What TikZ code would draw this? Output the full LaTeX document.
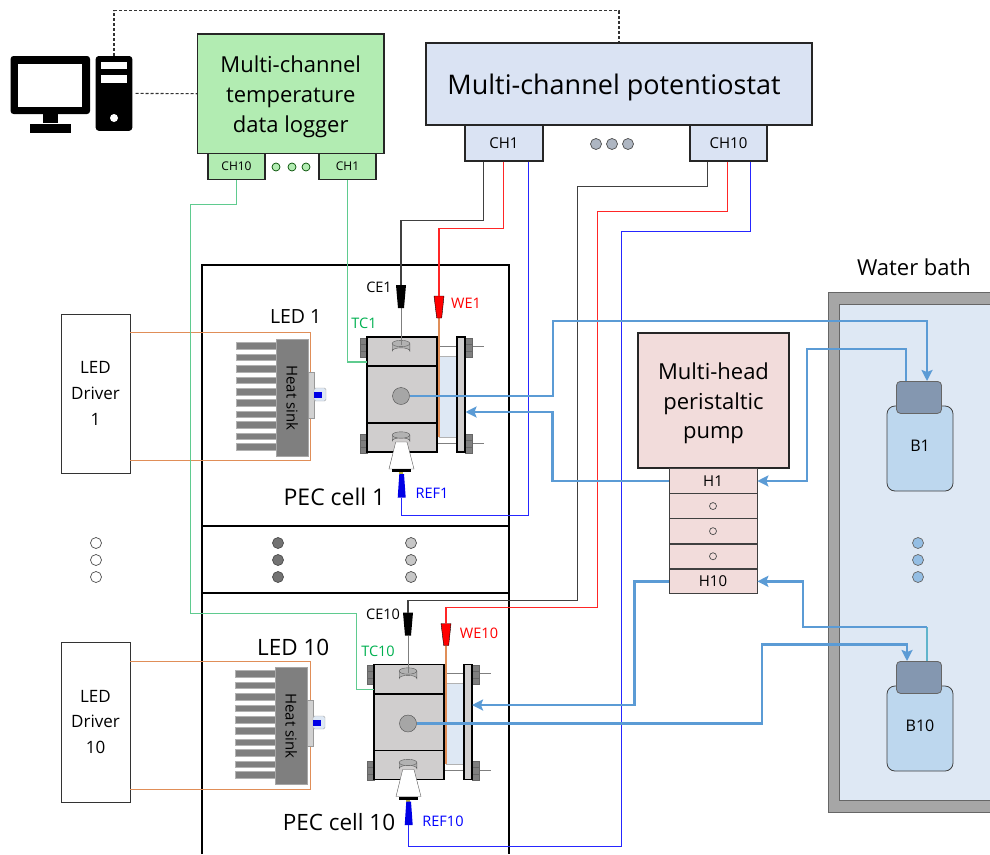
\documentclass[tikz,border=0pt]{standalone}
\usepackage{fontspec}
\setmainfont{Open Sans}
\usetikzlibrary{positioning,matrix,arrows.meta}
\definecolor{sgreen}{HTML}{B2ECB2}
\definecolor{spot}{HTML}{DAE3F3}
\definecolor{spump}{HTML}{F2DCDB}
\definecolor{swire}{HTML}{5FCB8F}
\definecolor{slabel}{HTML}{00B050}
\definecolor{stube}{HTML}{5B9BD5}
\definecolor{steal}{HTML}{5FB4CC}
\definecolor{sorange}{HTML}{E08E58}
\definecolor{sbath}{HTML}{DEE8F4}
\definecolor{sbottle}{HTML}{BDD7EE}
\definecolor{scap}{HTML}{8497B0}
\definecolor{sblock}{HTML}{D0CECE}
\definecolor{sbolt}{HTML}{7F7F7F}

\tikzset{
  px/.style={font=\linespread{1.35}\fontsize{#1}{#1}\selectfont},
  mainbox/.style={draw=black!85,line width=1.3pt,inner sep=0pt},
  boxtext/.style={align=center,inner sep=0pt,yshift=-3pt},
  dotnode/.style={circle,draw=black!70,line width=.7pt,inner sep=0pt,minimum size=#1},
  wirelabel/.style={px=14.5,inner sep=0pt},
  wire/.style={line width=1.1pt},
  dataline/.style={wire,draw=black!80,dash pattern=on 3pt off 2pt},
  tube/.style={draw=stube,line width=2.5pt},
  tubearrow/.style={tube,-{Stealth[length=11pt,width=11pt,inset=2pt]}},
  pics/ledsink/.style={code={
    \foreach \y in {7,18.2,30,41.2,52.6,64,75.2,86,97.2,107.6}
      \fill[sbolt,draw=black!30,line width=.3pt] (-40,\y-3.4) rectangle (0,\y+3.4);
    \node[draw=black!35,fill=sbolt,minimum width=32,minimum height=117,inner sep=0pt,anchor=north west] (sink) at (0,0) {};
    \node[px=15,rotate=-90] at (sink.center) {Heat sink};
    \draw[draw=black!40,fill=black!18] (32,33) rectangle (38,79);
    \draw[draw=black!35,fill=sbath,rounded corners=1.5pt] (38,49) rectangle (50,62);
    \fill[blue!90!black] (38,53) rectangle (46,59);
  }},
  pics/peccell/.style={code={
    % bolts and window behind the blocks
    \foreach \y in {9,106} \draw[sbolt,line width=.9pt] (70,\y) -- (117,\y);
    \draw[draw=black!30,fill=sbath] (72,19) rectangle (90,100);
    \foreach \y in {1,97} {
      \draw[draw=black!60,fill=sbolt] (-7,\y) rectangle (0,\y+19);
      \draw[draw=black!60,fill=sbolt] (98,\y) rectangle (105,\y+19);
      \draw[black!60] (-7,\y+6) -- (0,\y+6) (-7,\y+13) -- (0,\y+13) (98,\y+6) -- (105,\y+6) (98,\y+13) -- (105,\y+13);
    }
    \draw[black,line width=1.3pt,fill=sblock] (0,0) rectangle (70,29);
    \draw[black,line width=1.3pt,fill=sblock] (0,29.5) rectangle (70,86);
    \draw[black,line width=1.3pt,fill=sblock] (0,86) rectangle (70,115);
    \draw[black,line width=1.3pt,fill=sblock] (90,0) rectangle (98,115);
    % electrode
    \draw[sorange,line width=1.6pt] (71.7,-19) -- (71.7,99.7);
    \draw[black!65,fill=black!30] (25.2,6.5) -- (25.2,14) arc[x radius=8.8,y radius=3.2,start angle=180,end angle=360] -- (42.8,6.5);
    \draw[black!65,fill=black!30] (34,6.5) ellipse[x radius=8.8,y radius=3.2];
    \draw[black!65,fill=black!30] (25.2,98) -- (25.2,104) arc[x radius=8.8,y radius=3.2,start angle=180,end angle=360] -- (42.8,98);
    \draw[black!65,fill=black!30] (34,98) ellipse[x radius=8.8,y radius=3.2];
    \draw[black!65,fill=white] (28.7,105) -- (40,105) -- (47,132) -- (22,132) -- cycle;
    \fill[black] (25,132) rectangle (44,135);
    \fill[yellow!70!black] (32,135) rectangle (36,137);
    \node[circle,draw=black!70,fill=black!35,inner sep=0pt,minimum size=17] (port) at (34,59) {};
    % plugs
    \draw[sbolt,line width=1pt] (34,-29) -- (34,8);
    \coordinate (cetop) at (34,-52);
    \coordinate (wetop) at (72,-41);
    \coordinate (refend) at (34.5,160.7);
    \coordinate (tcend) at (0,25);
    \fill[black] (29,-52) -- (39,-52) -- (37,-29) -- (31,-29) -- cycle;
    \draw[black,fill=red] (67,-41) -- (77,-41) -- (74.7,-19) -- (69.7,-19) -- cycle;
    \fill[blue!90!black] (32.3,137) -- (37,137) -- (38.7,160.7) -- (30.7,160.7) -- cycle;
  }},
  pics/bottle/.style={code={
    \draw[black!75,line width=.8pt,fill=sbottle,rounded corners=8pt] (-33,25) rectangle (33,110);
    \node[draw=black!60,line width=.8pt,fill=scap,rounded corners=4pt,minimum width=45,minimum height=32,inner sep=0pt,anchor=north] (cap) at (-1,0) {};
    \node[px=16] (name) at (0,65) {#1};
  }},
}

\begin{document}
\begin{tikzpicture}[x=1pt,y=-1pt,node distance=1em]
  \useasboundingbox (0,0) rectangle (990,854);

  % computer
  \node[fill=black,rounded corners=3pt,minimum width=79.5,minimum height=58,inner sep=0pt] (monitor) at (50.3,85) {};
  \node[fill=white,minimum width=64,minimum height=43,inner sep=0pt] (screen) at (monitor.center) {};
  \node[fill=black,minimum width=15.5,minimum height=9,inner sep=0pt,below=0pt of monitor] (neck) {};
  \node[fill=black,minimum width=40.5,minimum height=9,inner sep=0pt,below=0pt of neck] (foot) {};
  \node[fill=black,rounded corners=3pt,minimum width=36.6,minimum height=74.7,inner sep=0pt] (tower) at (114,93.4) {};
  \node[fill=white,minimum width=26.6,minimum height=7.6,inner sep=0pt] (slot1) at (114,65.5) {};
  \node[fill=white,minimum width=26.6,minimum height=8,inner sep=0pt] (slot2) at (114,78.5) {};
  \node[circle,fill=white,minimum size=8,inner sep=0pt] (power) at (114,118) {};

  % instruments
  \node[mainbox,fill=sgreen,minimum width=186.5,minimum height=119.5] (logger) at (290.7,93.7) {};
  \node[boxtext,px=22] (loggertext) at (logger.center) {Multi-channel\\temperature\\data logger};
  \node[mainbox,fill=sgreen,minimum width=57,minimum height=26,px=12] (tch10) at (236.5,166.7) {CH10};
  \node[mainbox,fill=sgreen,minimum width=57,minimum height=26,px=12] (tch1) at (347.5,166.7) {CH1};
  \foreach \x in {276,292,306} \node[dotnode=8,draw=black!70!green,fill=sgreen] (tdot\x) at (\x,167) {};
  \node[mainbox,fill=spot,minimum width=386,minimum height=82] (pot) at (619,84) {};
  \node[boxtext,px=27,xshift=-5pt] (pottext) at (pot.center) {Multi-channel potentiostat};
  \node[mainbox,fill=spot,minimum width=78,minimum height=36,px=15] (pch1) at (504,143) {CH1};
  \node[mainbox,fill=spot,minimum width=77,minimum height=36,px=15] (pch10) at (728.5,143) {CH10};
  \foreach \x in {596,612,628} \node[dotnode=11,fill=spot!80!black] (pdot\x) at (\x,144) {};

  % cell frames
  \draw[black,line width=1.7pt] (202,854) -- (202,265) -- (509,265) -- (509,854);
  \draw[black,line width=1.7pt] (202,526) -- (509,526) (202,593) -- (509,593);
  \foreach \y in {543,560,577} {
    \node[dotnode=11,fill=black!55] (ldot\y) at (278,\y) {};
    \node[dotnode=11,fill=black!22] (rdot\y) at (411,\y) {};
    \node[dotnode=11,fill=white] (wdot\y) at (96,\y) {};
  }

  % LED drivers
  \node[draw=black!80,line width=.7pt,minimum width=69,minimum height=159,align=center,inner sep=0pt,px=17] (drv1) at (95.5,393.5) {LED\\[3pt]Driver\\[3pt]1};
  \node[draw=black!80,line width=.7pt,minimum width=69,minimum height=160,align=center,inner sep=0pt,px=17] (drv10) at (95.5,722) {LED\\[3pt]Driver\\[3pt]10};
  \draw[sorange,wire] (drv1.north east) ++(0,19) -- ++(180,0) -- ++(0,128) -- ++(-180,0);
  \draw[sorange,wire] (drv10.north east) ++(0,20) -- ++(180,0) -- ++(0,128) -- ++(-180,0);
  \pic (l1-) at (276,339) {ledsink};
  \pic (l10-) at (275,667) {ledsink};
  \pic (c1-) at (367,337) {peccell};
  \pic (c10-) at (374,664.5) {peccell};

  \node[px=19.5,above=12pt of l1-sink.north,xshift=3.5pt] (led1) {LED 1};
  \node[px=22.5,above=8pt of l10-sink.north,xshift=2pt] (led10) {LED 10};
  \node[px=23] (cell1) at (334.5,497) {PEC cell 1};
  \node[px=22.5] (cell10) at (339,822) {PEC cell 10};

  % labels of the electrodes
  \node[wirelabel] (ce1) at (379,287) {CE1};
  \node[wirelabel,text=red] (we1) at (466,303) {WE1};
  \node[wirelabel,text=slabel] (tc1) at (364,323) {TC1};
  \node[wirelabel,text=blue] (ref1) at (432,493) {REF1};
  \node[wirelabel] (ce10) at (383,614) {CE10};
  \node[wirelabel,text=red] (we10) at (479,633) {WE10};
  \node[wirelabel,text=slabel] (tc10) at (378,651) {TC10};
  \node[wirelabel,text=blue] (ref10) at (443,821) {REF10};

  % pump
  \node[mainbox,fill=spump,minimum width=151,minimum height=135] (pump) at (713.5,400.5) {};
  \node[boxtext,px=22] (pumptext) at (pump.center) {Multi-head\\peristaltic\\pump};
  \matrix (heads) [matrix of nodes,nodes in empty cells,anchor=north,inner sep=0pt,row sep=-.4pt,
    nodes={draw=black!75,line width=.7pt,fill=spump,minimum width=88,minimum height=24.8,inner sep=0pt,px=15}] at (713,468)
  { H1 \\ \\ \\ \\ H10 \\ };
  \foreach \i in {2,3,4} \node[dotnode=7,draw=black!70,fill=spump] (hdot\i) at (heads-\i-1.center) {};

  % water bath
  \draw[black!60,line width=.7pt,fill=black!35] (828,292) rectangle (990,812);
  \draw[black!60,line width=.7pt,fill=sbath] (839,304) rectangle (990,800);
  \node[px=22] (bath) at (914,267) {Water bath};
  \pic (b1-) at (920,381) {bottle={B1}};
  \pic (b10-) at (920,661) {bottle={B10}};
  \foreach \y in {543,560,577} \node[dotnode=11,draw=black!60,fill=stube!65] (bdot\y) at (918,\y) {};

  % data lines
  \draw[dataline] (tower.north) -- ++(0,-45) -| (pot.north);
  \draw[dataline] (tower.east) ++(3,0) -- (logger.west);

  % thermocouples
  \draw[swire,wire] (tch1.south) -- (c1-tcend -| tch1.south) -- (c1-tcend);
  \draw[swire,wire] (tch10.south) -- ++(0,24) -- ++(-46,0) |- (356.7,613.5) |- (c10-tcend);

  % potentiostat leads
  \draw[black!75,wire] (pch1.south west) ++(19,0) -- ++(0,59) -| (c1-cetop);
  \draw[red!85,wire] (pch1.south west) ++(39,0) -- ++(0,67) -| (c1-wetop);
  \draw[blue!85,wire] (pch1.south east) ++(-15,0) -- ++(0,354) -| (c1-refend);
  \draw[black!75,wire] (pch10.south west) ++(18,0) -- ++(0,25) -- ++(-130,0) -- ++(0,414) -| (c10-cetop);
  \draw[red!85,wire] (pch10.south west) ++(38,0) -- ++(0,50) -- ++(-130,0) -- ++(0,396) -| (c10-wetop);
  \draw[blue!85,wire] (pch10.south east) ++(-17,0) -- ++(0,70) -- ++(-129,0) -- ++(0,615) -| (c10-refend);

  % tubing
  \draw[tubearrow] (c1-port.east) -- ++(143.5,0) |- ++(100,-75) -| ([xshift=8]b1-cap.north);
  \draw[tubearrow] (heads-1-1.west) -- ++(-116,0) |- (465.5,412);
  \draw[tubearrow] ([xshift=-13]b1-cap.north) |- (807,349) |- (heads-1-1.east);
  \draw[tubearrow] (heads-5-1.west) -- ++(-34,0) |- (472,705);
  \draw[steal,line width=1.2pt] ([xshift=8]b10-cap.north) -- ++(0,-34);
  \draw[tubearrow] ([xshift=8,yshift=34]b10-cap.north) -- ++(-124,0) |- (heads-5-1.east);
  \draw[tubearrow] (c10-port.east) -- ++(345.5,0) |- ++(50,-79) -| ([xshift=-12]b10-cap.north);
\end{tikzpicture}
\end{document}
